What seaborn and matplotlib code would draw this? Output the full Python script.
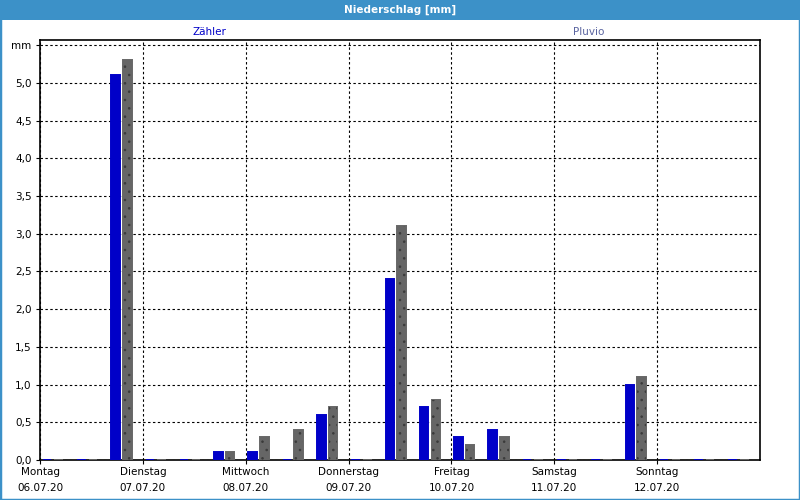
import numpy as np
import pandas as pd
import matplotlib
matplotlib.use("Agg")
import matplotlib.pyplot as plt
from matplotlib.patches import Rectangle
import seaborn as sns

# ---------------- data ----------------
days = ["Montag", "Dienstag", "Mittwoch", "Donnerstag", "Freitag", "Samstag", "Sonntag"]
dates = ["06.07.20", "07.07.20", "08.07.20", "09.07.20", "10.07.20", "11.07.20", "12.07.20"]
slot_hours = [3, 11, 19]          # centre of each 8-hour period within a day
zaehler = [0.0, 0.0, 5.1,  0.0, 0.0, 0.1,  0.1, 0.0, 0.6,  0.0, 2.4, 0.7,
           0.3, 0.4, 0.0,  0.0, 0.0, 1.0,  0.0, 0.0, 0.0]
pluvio  = [0.0, 0.0, 5.3,  0.0, 0.0, 0.1,  0.3, 0.4, 0.7,  0.0, 3.1, 0.8,
           0.2, 0.3, 0.0,  0.0, 0.0, 1.1,  0.0, 0.0, 0.0]
series = ["Zähler", "Pluvio"]
yticks = [0.0, 0.5, 1.0, 1.5, 2.0, 2.5, 3.0, 3.5, 4.0, 4.5, 5.0, 5.5]
ytick_labels = ["0,0", "0,5", "1,0", "1,5", "2,0", "2,5", "3,0", "3,5", "4,0", "4,5", "5,0", "mm"]

hours = [d * 24 + h for d in range(len(days)) for h in slot_hours]
df = pd.DataFrame({
    "t": hours * 2,
    "mm": zaehler + pluvio,
    "series": [series[0]] * len(hours) + [series[1]] * len(hours),
})

BLUE = "#0000c8"
GRAY = "#666666"
FRAME = "#3c91c8"

sns.set_style("white")
plt.rcParams["font.family"] = ["DejaVu Sans"]
plt.rcParams["hatch.linewidth"] = 0.6

fig = plt.figure(figsize=(8, 5), dpi=100)
ax = fig.add_axes([40 / 800, 40 / 500, 720 / 800, 420 / 500])

sns.barplot(data=df, x="t", y="mm", hue="series", hue_order=series,
            palette={series[0]: BLUE, series[1]: GRAY}, saturation=1,
            native_scale=True, width=0.68, gap=0.26, dodge=True,
            legend=False, errorbar=None, ax=ax)

hatch_overlays = []
for p in ax.patches:
    fc = p.get_facecolor()
    p.set_edgecolor(fc)
    p.set_linewidth(1.4)
    p.set_zorder(6)
    if np.allclose(fc[:3], matplotlib.colors.to_rgb(GRAY)) and p.get_height() > 0.05:
        hatch_overlays.append(Rectangle(p.get_xy(), p.get_width(), p.get_height(),
                                        facecolor="none", edgecolor="#3a3a3a",
                                        linewidth=0, hatch="..", zorder=7))
for r in hatch_overlays:
    ax.add_patch(r)

ax.set_xlim(0, 168)
ax.set_ylim(0, 5.57)
ax.set_xticks([d * 24 for d in range(len(days))])
ax.set_xticklabels([f"{a}\n{b}" for a, b in zip(days, dates)], linespacing=1.75)
ax.set_yticks(yticks)
ax.set_yticklabels(ytick_labels)
ax.set_xlabel("")
ax.set_ylabel("")

ax.tick_params(axis="both", labelsize=7.5, colors="black", length=3, width=0.8,
               direction="out", bottom=True, left=True)
ax.tick_params(axis="x", pad=2)
ax.tick_params(axis="y", pad=3)

ax.grid(True, axis="both", color="black", linestyle=(0, (2.2, 2.2)), linewidth=0.8, zorder=1)
ax.set_axisbelow(True)
for s in ax.spines.values():
    s.set_visible(True)
    s.set_color("black")
    s.set_linewidth(1.2)
    s.set_zorder(5)

# header bar + frame
fig.patches.append(Rectangle((0, 1 - 20 / 500), 1, 20 / 500, transform=fig.transFigure,
                             facecolor=FRAME, edgecolor="none", zorder=0))
fig.patches.append(Rectangle((0, 0), 1, 1, transform=fig.transFigure,
                             facecolor="none", edgecolor=FRAME, linewidth=2.5, zorder=0))
fig.text(0.5, 1 - 10 / 500, "Niederschlag [mm]", ha="center", va="center",
         color="white", fontsize=7.5, fontweight="bold")
fig.text(209 / 800, 1 - 32 / 500, series[0], ha="center", va="center",
         color=BLUE, fontsize=7.5)
fig.text(589 / 800, 1 - 32 / 500, series[1], ha="center", va="center",
         color="#5a64a0", fontsize=7.5)

fig.savefig("out.png", dpi=100, facecolor="white")
